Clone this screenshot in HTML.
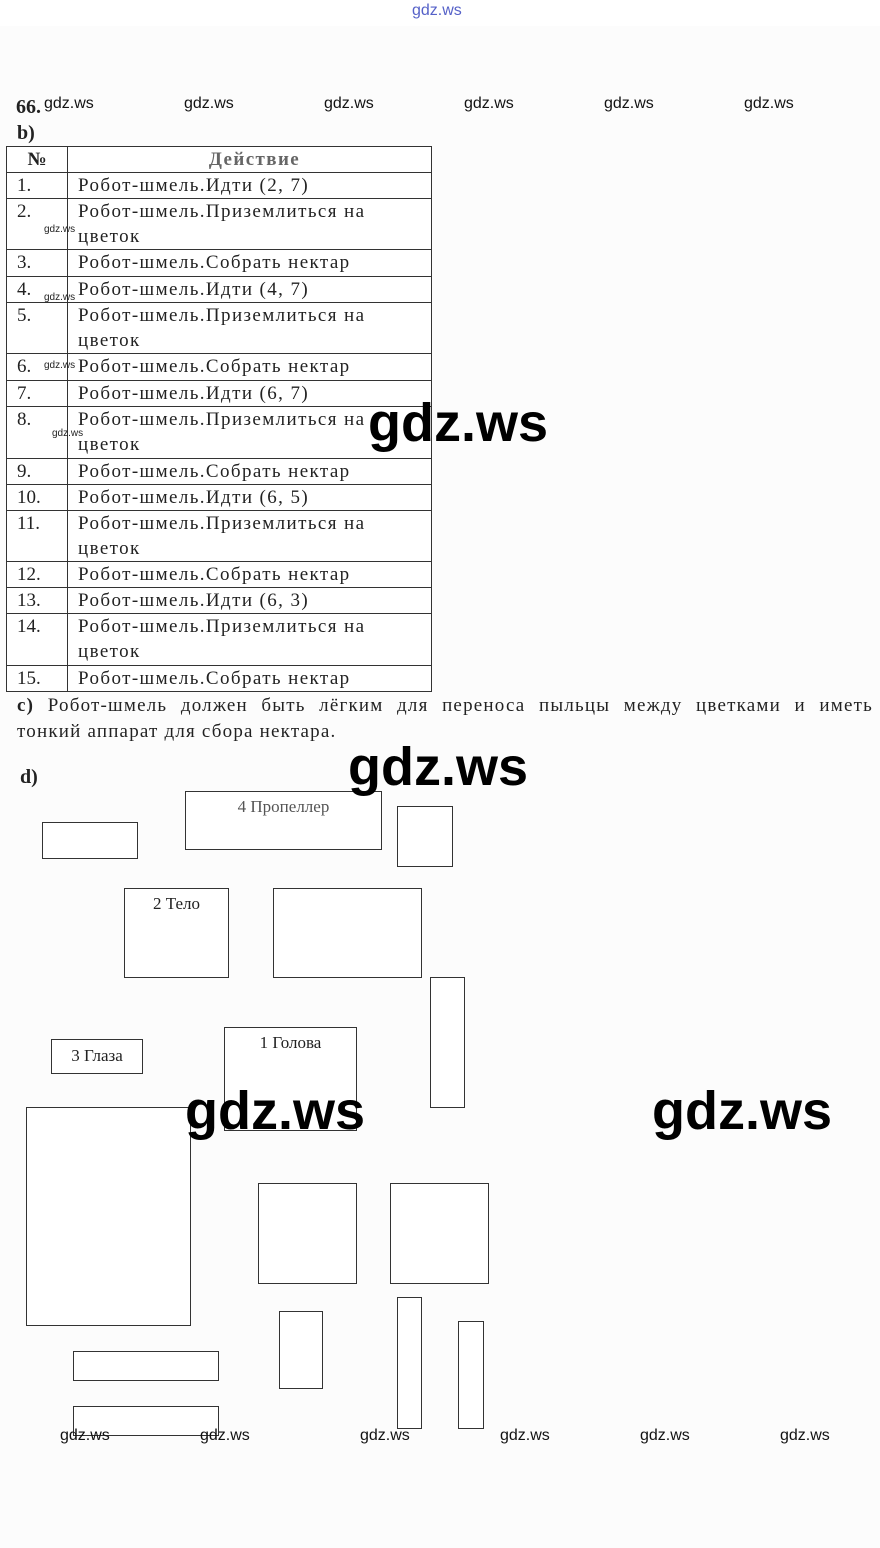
<!DOCTYPE html>
<html><head><meta charset="utf-8"><style>
body{margin:0;width:880px;height:1548px;background:#fcfcfc;position:relative;overflow:hidden;font-family:"Liberation Serif",serif;color:#222}
.a{position:absolute}
.b{position:absolute;border:1px solid #333;box-sizing:border-box;background:#fff}
.w{position:absolute;font-family:"Liberation Sans",sans-serif;font-size:16px;color:#111}
.W{position:absolute;font-family:"Liberation Sans",sans-serif;font-size:54px;font-weight:bold;color:#000;line-height:1}
table{position:absolute;left:6px;top:146px;border-collapse:collapse;width:426px;font-size:19px;background:#fff}
td{border:1px solid #333;padding:0 0 0 10px;vertical-align:top;line-height:25px;letter-spacing:1.4px}
td:first-child{width:50px;padding-left:10px;letter-spacing:0}
.bt{font-size:17px;text-align:center;position:absolute;left:0;right:0}
</style></head><body>
<div class="a" style="left:0;top:0;width:880px;height:26px;background:#fff"></div>
<div class="w" style="left:412px;top:2px;color:#5561c8;font-size:16px">gdz.ws</div>
<div class="a" style="left:16px;top:96px;font-size:20px;font-weight:bold">66.</div>
<div class="w" style="left:44px;top:95px">gdz.ws</div><div class="w" style="left:184px;top:95px">gdz.ws</div><div class="w" style="left:324px;top:95px">gdz.ws</div><div class="w" style="left:464px;top:95px">gdz.ws</div><div class="w" style="left:604px;top:95px">gdz.ws</div><div class="w" style="left:744px;top:95px">gdz.ws</div>
<div class="a" style="left:17px;top:122px;font-size:20px;font-weight:bold">b)</div>
<table>
<tr style="height:26px"><td style="text-align:center;padding:0;font-weight:bold">№</td><td style="text-align:center;font-weight:bold;color:#666">Действие</td></tr>
<tr style="height:26px"><td>1.</td><td>Робот-шмель.Идти (2, 7)</td></tr>
<tr style="height:51px"><td>2.</td><td>Робот-шмель.Приземлиться на<br>цветок</td></tr>
<tr style="height:27px"><td>3.</td><td>Робот-шмель.Собрать нектар</td></tr>
<tr style="height:26px"><td>4.</td><td>Робот-шмель.Идти (4, 7)</td></tr>
<tr style="height:51px"><td>5.</td><td>Робот-шмель.Приземлиться на<br>цветок</td></tr>
<tr style="height:27px"><td>6.</td><td>Робот-шмель.Собрать нектар</td></tr>
<tr style="height:26px"><td>7.</td><td>Робот-шмель.Идти (6, 7)</td></tr>
<tr style="height:52px"><td>8.</td><td>Робот-шмель.Приземлиться на<br>цветок</td></tr>
<tr style="height:26px"><td>9.</td><td>Робот-шмель.Собрать нектар</td></tr>
<tr style="height:26px"><td>10.</td><td>Робот-шмель.Идти (6, 5)</td></tr>
<tr style="height:51px"><td>11.</td><td>Робот-шмель.Приземлиться на<br>цветок</td></tr>
<tr style="height:26px"><td>12.</td><td>Робот-шмель.Собрать нектар</td></tr>
<tr style="height:26px"><td>13.</td><td>Робот-шмель.Идти (6, 3)</td></tr>
<tr style="height:52px"><td>14.</td><td>Робот-шмель.Приземлиться на<br>цветок</td></tr>
<tr style="height:26px"><td>15.</td><td>Робот-шмель.Собрать нектар</td></tr>
</table>
<div class="a" style="left:44px;top:224px;font-family:'Liberation Sans',sans-serif;font-size:10px">gdz.ws</div>
<div class="a" style="left:44px;top:292px;font-family:'Liberation Sans',sans-serif;font-size:10px">gdz.ws</div>
<div class="a" style="left:44px;top:360px;font-family:'Liberation Sans',sans-serif;font-size:10px">gdz.ws</div>
<div class="a" style="left:52px;top:428px;font-family:'Liberation Sans',sans-serif;font-size:10px">gdz.ws</div>
<div class="a" style="left:17px;top:693px;width:856px;font-size:19px;line-height:26px;letter-spacing:1.2px;text-align:justify;text-align-last:justify"><b>c)</b> Робот-шмель должен быть лёгким для переноса пыльцы между цветками и иметь</div>
<div class="a" style="left:17px;top:719px;width:856px;font-size:19px;line-height:26px;letter-spacing:1.2px">тонкий аппарат для сбора нектара.</div>
<div class="a" style="left:20px;top:766px;font-size:20px;font-weight:bold">d)</div>
<div class="b" style="left:42px;top:822px;width:96px;height:37px"></div>
<div class="b" style="left:185px;top:791px;width:197px;height:59px"><div class="bt" style="top:5px;color:#555">4 Пропеллер</div></div>
<div class="b" style="left:397px;top:806px;width:56px;height:61px"></div>
<div class="b" style="left:124px;top:888px;width:105px;height:90px"><div class="bt" style="top:5px">2 Тело</div></div>
<div class="b" style="left:273px;top:888px;width:149px;height:90px"></div>
<div class="b" style="left:430px;top:977px;width:35px;height:131px"></div>
<div class="b" style="left:51px;top:1039px;width:92px;height:35px"><div class="bt" style="top:6px">3 Глаза</div></div>
<div class="b" style="left:224px;top:1027px;width:133px;height:104px"><div class="bt" style="top:5px">1 Голова</div></div>
<div class="b" style="left:26px;top:1107px;width:165px;height:219px"></div>
<div class="b" style="left:258px;top:1183px;width:99px;height:101px"></div>
<div class="b" style="left:390px;top:1183px;width:99px;height:101px"></div>
<div class="b" style="left:279px;top:1311px;width:44px;height:78px"></div>
<div class="b" style="left:397px;top:1297px;width:25px;height:132px"></div>
<div class="b" style="left:458px;top:1321px;width:26px;height:108px"></div>
<div class="b" style="left:73px;top:1351px;width:146px;height:30px"></div>
<div class="b" style="left:73px;top:1406px;width:146px;height:30px"></div>
<div class="W" style="left:368px;top:396px">gdz.ws</div>
<div class="W" style="left:348px;top:740px">gdz.ws</div>
<div class="W" style="left:185px;top:1084px">gdz.ws</div>
<div class="W" style="left:652px;top:1084px">gdz.ws</div>
<div class="w" style="left:60px;top:1427px">gdz.ws</div><div class="w" style="left:200px;top:1427px">gdz.ws</div><div class="w" style="left:360px;top:1427px">gdz.ws</div><div class="w" style="left:500px;top:1427px">gdz.ws</div><div class="w" style="left:640px;top:1427px">gdz.ws</div><div class="w" style="left:780px;top:1427px">gdz.ws</div>
</body></html>
